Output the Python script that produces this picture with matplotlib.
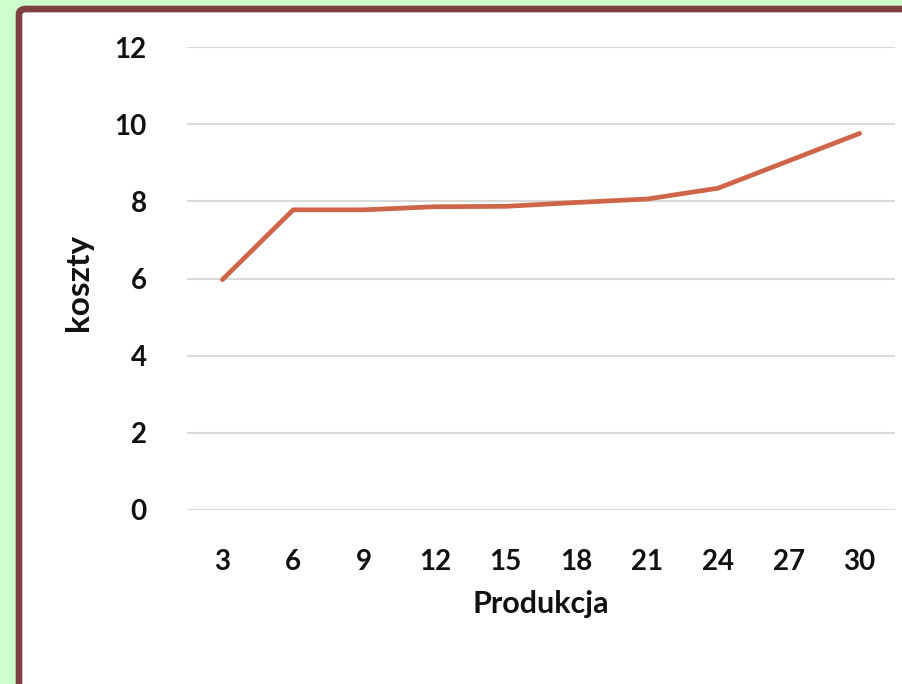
import matplotlib
matplotlib.use("Agg")
import matplotlib.pyplot as plt
from matplotlib.patches import FancyBboxPatch

# data
produkcja = ["3", "6", "9", "12", "15", "18", "21", "24", "27", "30"]
koszty = [5.97, 7.78, 7.78, 7.86, 7.87, 7.97, 8.06, 8.34, 9.05, 9.76]
y_ticks = [0, 2, 4, 6, 8, 10, 12]

W, H = 902, 684
fig = plt.figure(figsize=(W / 100, H / 100), dpi=100)
fig.patch.set_facecolor("#ccffcc")

# white panel with brown frame (runs off the right and bottom edges)
panel = FancyBboxPatch((19 / W, -0.2), 1.2, 1 - 9 / H + 0.2,
                       boxstyle="round,pad=0,rounding_size=0.008",
                       transform=fig.transFigure, facecolor="white",
                       edgecolor="#7d3f3f", linewidth=4.8, zorder=-5)
fig.patches.append(panel)

ax = fig.add_axes([187 / W, 1 - 510 / H, (895 - 187) / W, (510 - 47) / H])
ax.set_zorder(2)
ax.set_facecolor("none")

x = list(range(len(produkcja)))
ax.plot(x, koszty, color="#cf6548", linewidth=3.4,
        solid_capstyle="round", solid_joinstyle="round", zorder=3)

ax.set_xlim(-0.5, len(produkcja) - 0.5)
ax.set_ylim(0, 12)
ax.set_xticks(x)
ax.set_xticklabels(produkcja)
ax.set_yticks(y_ticks)
ax.grid(axis="y", color="#d9d9d9", linewidth=1.5)
ax.set_axisbelow(True)
for s in ax.spines.values():
    s.set_visible(False)

ax.tick_params(axis="both", length=0, labelsize=20, colors="#111111")
ax.tick_params(axis="y", pad=29)
ax.tick_params(axis="x", pad=28)
for lab in ax.get_xticklabels() + ax.get_yticklabels():
    lab.set_fontfamily("Lato")
    lab.set_fontweight("bold")

ax.set_xlabel("Produkcja", fontsize=22, fontfamily="Lato", fontweight="bold",
              color="#111111", labelpad=11)
ax.set_ylabel("koszty", fontsize=24, fontfamily="Lato", fontweight="bold",
              color="#111111")
ax.yaxis.set_label_coords((93 - 187) / (895 - 187), (510 - 282) / (510 - 47))

fig.savefig("out.png", dpi=100, facecolor=fig.get_facecolor())
